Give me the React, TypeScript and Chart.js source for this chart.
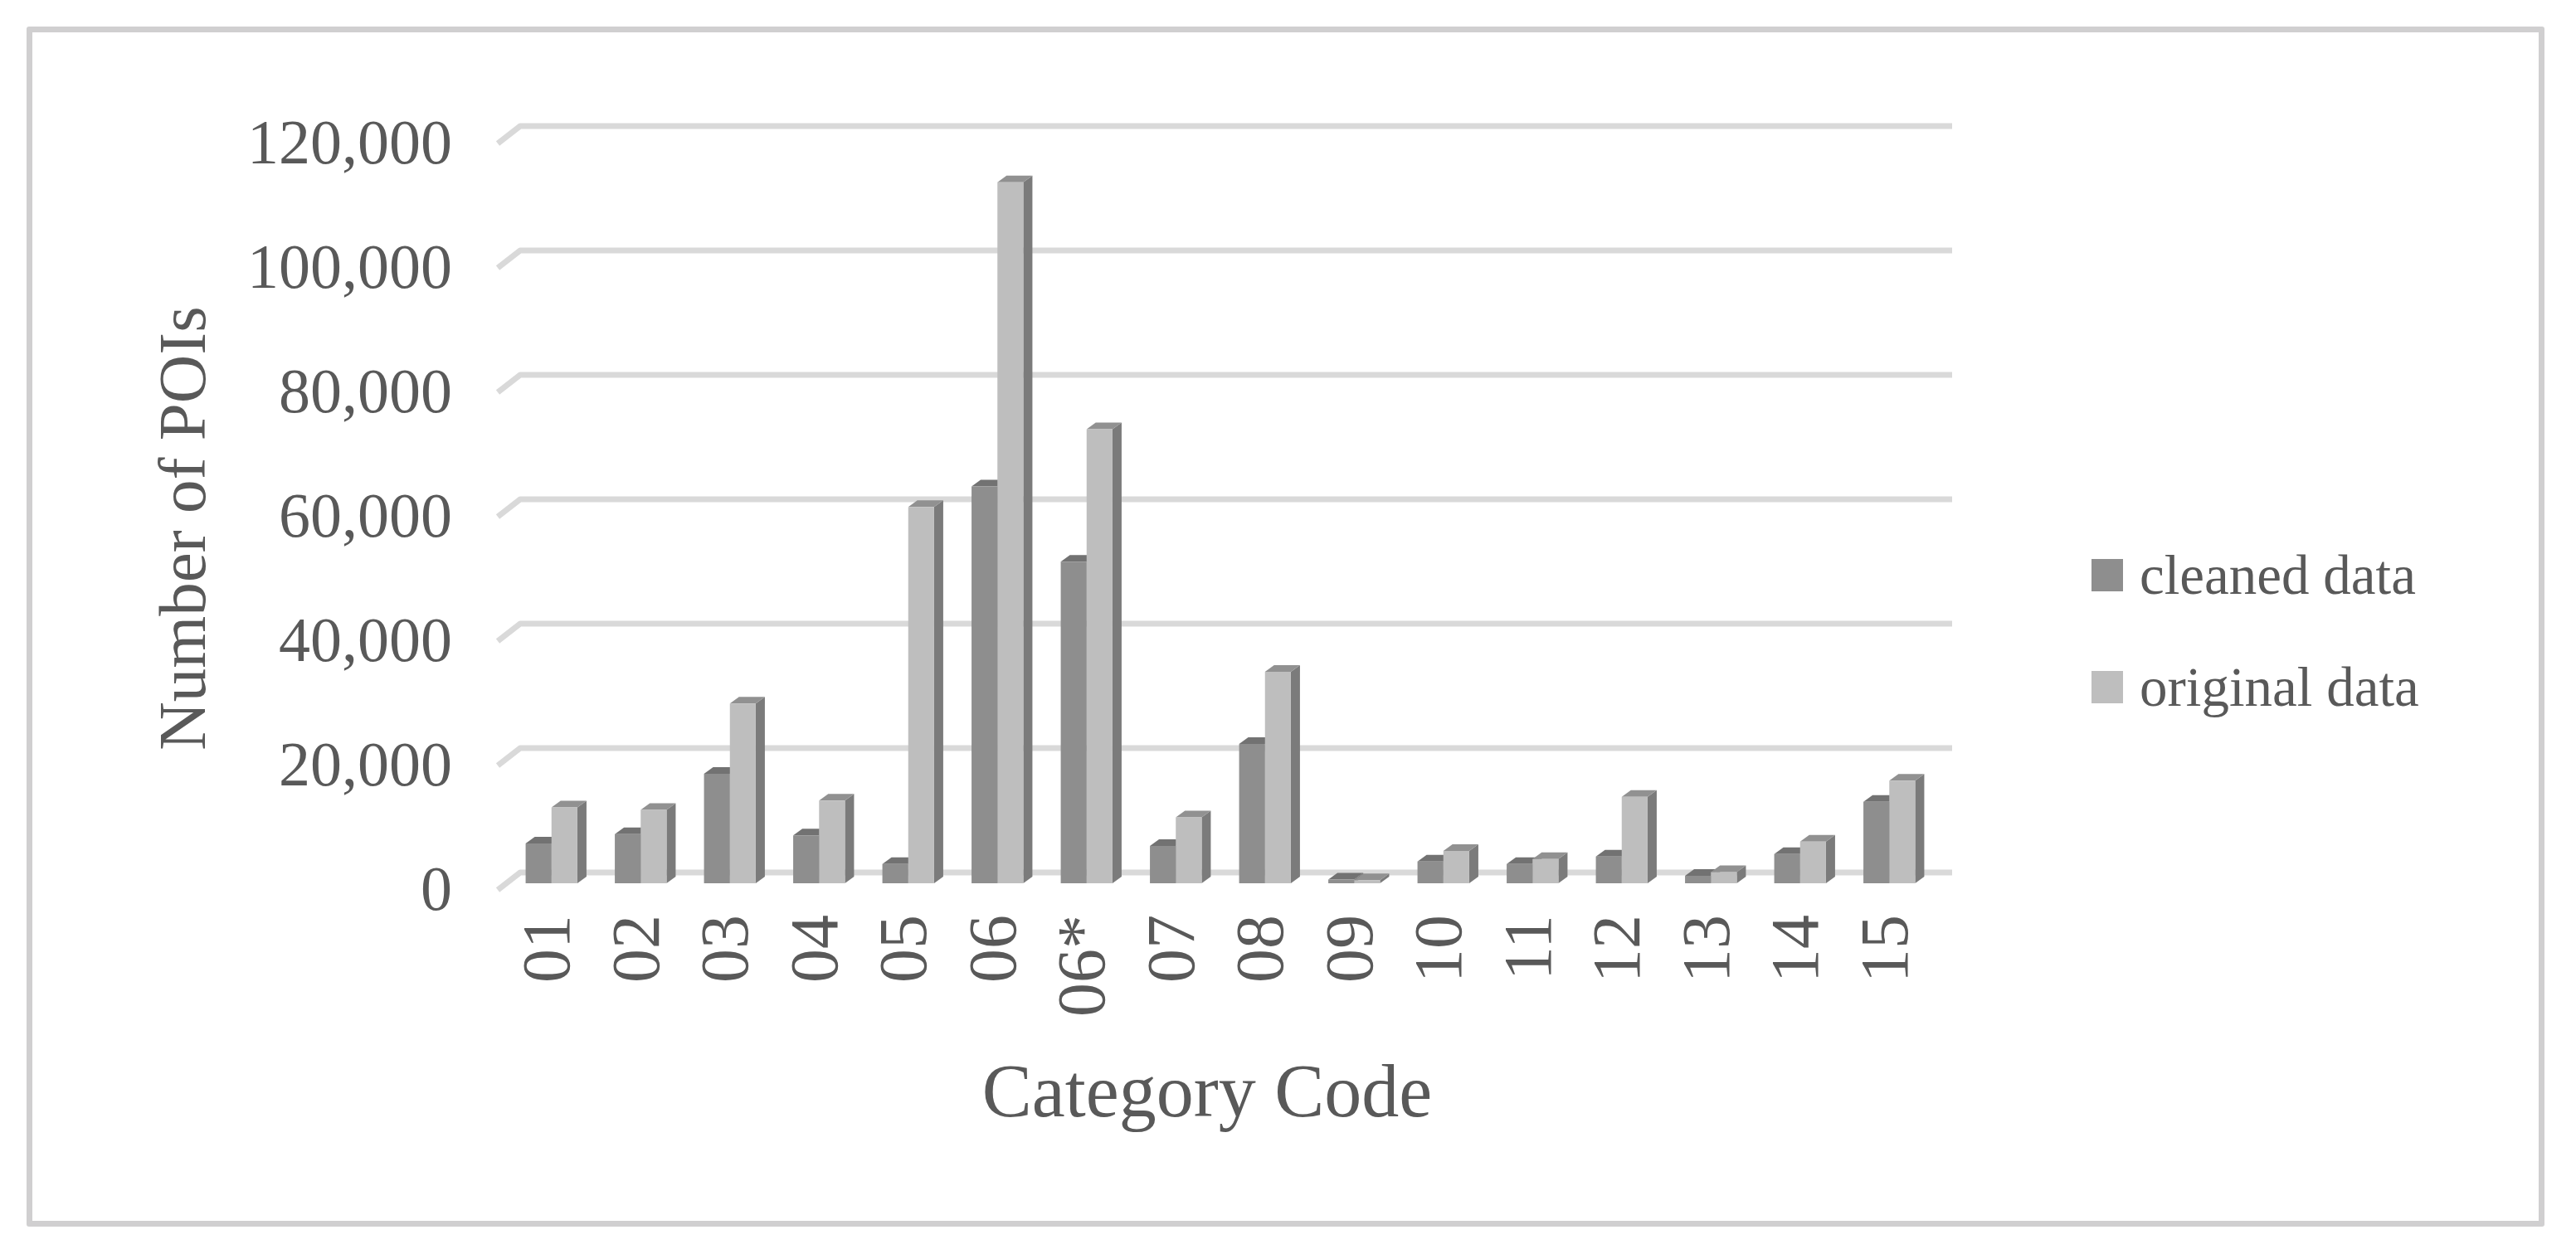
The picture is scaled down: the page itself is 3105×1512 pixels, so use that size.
import React, { useEffect, useRef } from "react";
import { Chart, registerables } from "chart.js";

Chart.register(...registerables);

const categories = ["01", "02", "03", "04", "05", "06", "06*", "07", "08", "09", "10", "11", "12", "13", "14", "15"];
const cleanedData = [6400, 7900, 17600, 7700, 3100, 63800, 51700, 6000, 22400, 600, 3500, 3100, 4300, 1200, 4700, 13100];
const originalData = [12200, 11800, 28900, 13300, 60500, 112700, 73000, 10600, 34000, 500, 5200, 3900, 13900, 1800, 6700, 16500];
const seriesLabels = ["cleaned data", "original data"];
const yAxisTitle = "Number of POIs";
const xAxisTitle = "Category Code";
const yAxisMax = 120000;
const yAxisStep = 20000;

const FONT = "'Liberation Serif', 'Times New Roman', serif";
const TEXT = "#595959";
const FRONT = ["#8e8e8e", "#bebebe"];
const TOP = ["#727272", "#919191"];
const SIDE = ["#6e6e6e", "#7b7b7b"];
const DX = 11;
const DY = 8;

const threeD = {
  id: "threeD",
  beforeDatasetsDraw(chart: any) {
    const ctx = chart.ctx;
    const { left, right } = chart.chartArea;
    const yScale = chart.scales.y;
    ctx.save();
    ctx.strokeStyle = "#d9d9d9";
    ctx.lineWidth = 7;
    ctx.lineJoin = "round";
    yScale.ticks.forEach((t: any) => {
      const yf = yScale.getPixelForValue(t.value);
      const yb = yf - 13;
      ctx.beginPath();
      ctx.moveTo(left - 11, yf + 8);
      ctx.lineTo(left + 16, yb);
      ctx.lineTo(right + 22, yb);
      ctx.stroke();
    });
    chart.data.datasets.forEach((_ds: any, di: number) => {
      const meta = chart.getDatasetMeta(di);
      meta.data.forEach((el: any) => {
        const { x, y, base, width } = el.getProps(["x", "y", "base", "width"], true);
        const l = x - width / 2;
        const r = x + width / 2;
        ctx.fillStyle = SIDE[di];
        ctx.beginPath();
        ctx.moveTo(r, y);
        ctx.lineTo(r + DX, y - DY);
        ctx.lineTo(r + DX, base - DY);
        ctx.lineTo(r, base);
        ctx.closePath();
        ctx.fill();
        ctx.fillStyle = TOP[di];
        ctx.beginPath();
        ctx.moveTo(l, y);
        ctx.lineTo(l + DX, y - DY);
        ctx.lineTo(r + DX, y - DY);
        ctx.lineTo(r, y);
        ctx.closePath();
        ctx.fill();
      });
    });
    ctx.restore();
  },
};

const sideLegendAndTitles = {
  id: "sideLegendAndTitles",
  afterDraw(chart: any) {
    const ctx = chart.ctx;
    const { left, right, bottom } = chart.chartArea;
    const x0 = right + 190;
    ctx.save();
    ctx.font = `67px ${FONT}`;
    ctx.textBaseline = "alphabetic";
    ctx.textAlign = "left";
    chart.data.datasets.forEach((ds: any, i: number) => {
      const baseY = 716 + i * 135;
      ctx.fillStyle = ds.backgroundColor;
      ctx.fillRect(x0, baseY - 42, 38, 39);
      ctx.fillStyle = TEXT;
      ctx.fillText(ds.label, x0 + 58, baseY);
    });
    // x-axis title
    ctx.font = `90px ${FONT}`;
    ctx.textAlign = "center";
    ctx.textBaseline = "middle";
    ctx.fillText(xAxisTitle, (left + right) / 2 - 16, bottom + 257);
    // y-axis title
    ctx.translate(226, 637);
    ctx.rotate(-Math.PI / 2);
    ctx.font = `81px ${FONT}`;
    ctx.fillText(yAxisTitle, 0, 0);
    ctx.restore();
  },
};

export default function App() {
  const ref = useRef<HTMLCanvasElement | null>(null);
  useEffect(() => {
    if (!ref.current) return;
    const chart = new Chart(ref.current, {
      type: "bar",
      data: {
        labels: categories,
        datasets: [
          { label: seriesLabels[0], data: cleanedData, backgroundColor: FRONT[0], borderWidth: 0 },
          { label: seriesLabels[1], data: originalData, backgroundColor: FRONT[1], borderWidth: 0 },
        ],
      },
      options: {
        responsive: false,
        animation: false,
        devicePixelRatio: 1,
        layout: { padding: { left: 0, top: 165, right: 774, bottom: 147 } },
        datasets: { bar: { categoryPercentage: 0.58, barPercentage: 1 } },
        plugins: { legend: { display: false }, tooltip: { enabled: false } },
        scales: {
          x: {
            grid: { display: false, drawTicks: false },
            border: { display: false },
            ticks: {
              color: TEXT,
              font: { family: FONT, size: 82 },
              minRotation: 90,
              maxRotation: 90,
              padding: 38,
              autoSkip: false,
            },
            title: { display: false },
            afterFit: (s: any) => {
              s.height = 300;
            },
          },
          y: {
            min: 0,
            max: yAxisMax,
            grid: { display: false, drawTicks: false },
            border: { display: false },
            ticks: {
              stepSize: yAxisStep,
              color: TEXT,
              font: { family: FONT, size: 76 },
              padding: 66,
              labelOffset: 12,
              callback: (v: any) => Number(v).toLocaleString("en-US"),
            },
            title: { display: false },
            afterFit: (s: any) => {
              s.width = 611;
            },
          },
        },
      },
      plugins: [threeD, sideLegendAndTitles],
    });
    return () => chart.destroy();
  }, []);
  return (
    <div style={{ position: "absolute", left: 0, top: 0, width: 3105, height: 1512, background: "#fff" }}>
      <div
        style={{
          position: "absolute",
          left: 32,
          top: 32,
          width: 3035,
          height: 1447,
          boxSizing: "border-box",
          border: "7px solid #d0cfd0",
          borderRadius: 3,
        }}
      />
      <canvas ref={ref} width={3105} height={1512} style={{ position: "absolute", left: 0, top: 0, display: "block" }} />
    </div>
  );
}
